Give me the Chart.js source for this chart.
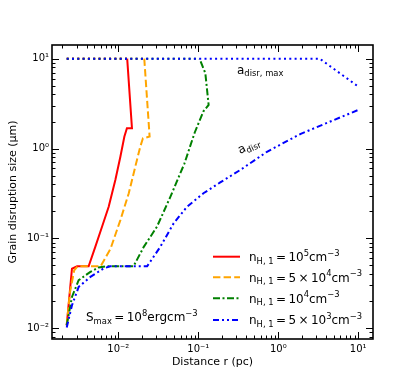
<!DOCTYPE html>
<html>
<head>
<meta charset="utf-8">
<script src="https://cdn.jsdelivr.net/npm/chart.js@4.4.0/dist/chart.umd.min.js"></script>
<style>
  html, body { margin: 0; padding: 0; background: #fff; }
  #wrap { width: 415px; height: 381px; }
</style>
</head>
<body>
<div id="wrap"><canvas id="chart" width="415" height="381"></canvas></div>
<script>
// distance r (pc) vs grain disruption size a_disr (um), one pair per density
const rA = [0.00226, 0.00263, 0.00305, 0.00425, 0.00516, 0.00625, 0.00757, 0.00917, 0.0106, 0.0119, 0.0128, 0.0148, 0.0129];
const aA = [0.0108, 0.046, 0.049, 0.049, 0.081, 0.135, 0.225, 0.447, 0.81, 1.36, 1.68, 1.68, 10];

const rB = [0.00226, 0.00248, 0.0028, 0.0031, 0.006, 0.008, 0.0106, 0.0135, 0.0163, 0.0188, 0.0203, 0.0246, 0.0211];
const aB = [0.0108, 0.025, 0.044, 0.049, 0.049, 0.077, 0.16, 0.318, 0.63, 1.05, 1.30, 1.36, 10];

const rC = [0.00226, 0.00263, 0.00319, 0.00447, 0.00568, 0.0072, 0.0155, 0.0207, 0.0304, 0.0447, 0.067, 0.09, 0.116, 0.1346, 0.1224, 0.1037];
const aC = [0.0108, 0.0223, 0.0343, 0.0425, 0.0475, 0.049, 0.049, 0.08, 0.135, 0.29, 0.68, 1.5, 2.6, 3.06, 6.9, 10];

const rD = [0.00226, 0.00263, 0.00319, 0.00447, 0.00655, 0.00794, 0.0229, 0.0335, 0.0491, 0.0722, 0.116, 0.188, 0.335, 0.722, 1.88, 4.92, 10];
const aD = [0.0102, 0.018, 0.0289, 0.0373, 0.0464, 0.049, 0.049, 0.0807, 0.147, 0.225, 0.318, 0.42, 0.578, 0.92, 1.45, 2.07, 2.69];

// a_disr,max curves
const rMaxA = [0.00226, 0.0129];
const rMaxB = [0.00226, 0.0211];
const rMaxC = [0.00226, 0.101];
const rMaxD = [0.00226, 3.3, 10];
const aMaxA = [10, 10];
const aMaxB = [10, 10];
const aMaxC = [10, 10];
const aMaxD = [10, 10, 4.9];

const xTicks = [0.01, 0.1, 1, 10];
const yTicks = [0.01, 0.1, 1, 10];

const FONT = '"DejaVu Sans", sans-serif';
Chart.defaults.font.family = FONT;
Chart.defaults.color = '#000';

const pts = (xs, ys) => xs.map((x, i) => ({x: x, y: ys[i]}));

const series = [
    {r: rA, a: aA, rm: rMaxA, am: aMaxA, color: '#ff0000', dash: [], order: 4,
     label: [['n', 0], ['H, 1', -1], ['\u2009=\u200910', 0], ['5', 1], ['cm', 0], ['\u22123', 1]]},
    {r: rB, a: aB, rm: rMaxB, am: aMaxB, color: '#ffa500', dash: [7.4, 3.2], order: 3,
     label: [['n', 0], ['H, 1', -1], ['\u2009=\u20095\u2009\u00d7\u200910', 0], ['4', 1], ['cm', 0], ['\u22123', 1]]},
    {r: rC, a: aC, rm: rMaxC, am: aMaxC, color: '#008000', dash: [7, 2.5, 2, 2.5], order: 2,
     label: [['n', 0], ['H, 1', -1], ['\u2009=\u200910', 0], ['4', 1], ['cm', 0], ['\u22123', 1]]},
    {r: rD, a: aD, rm: rMaxD, am: aMaxD, color: '#0000ff', dash: [6, 3, 2, 3, 2, 3], order: 1,
     label: [['n', 0], ['H, 1', -1], ['\u2009=\u20095\u2009\u00d7\u200910', 0], ['3', 1], ['cm', 0], ['\u22123', 1]]}
];

const datasets = [];
series.forEach(s => {
    datasets.push({data: pts(s.r, s.a), borderColor: s.color, borderWidth: 2,
        borderDash: s.dash, pointRadius: 0, tension: 0, order: s.order});
    datasets.push({data: pts(s.rm, s.am), borderColor: s.color, borderWidth: 2,
        borderDash: [2, 3.3], pointRadius: 0, tension: 0, order: s.order});
});

// text with sub/superscripts: k = 0 normal, 1 superscript, -1 subscript
function drawRich(ctx, parts, x, y, size) {
    let cx = x;
    parts.forEach(([t, k]) => {
        const s = k === 0 ? size : size * 0.7;
        ctx.font = s + 'px ' + FONT;
        const dy = k === 1 ? -size * 0.45 : (k === -1 ? size * 0.22 : 0);
        ctx.fillText(t, cx, y + dy);
        cx += ctx.measureText(t).width;
    });
}

const supMap = {'-': '\u207b', '0': '\u2070', '1': '\u00b9', '2': '\u00b2', '3': '\u00b3'};
function powLabel(v) {
    const e = Math.round(Math.log10(v));
    return '10' + String(e).split('').map(c => supMap[c]).join('');
}

const decorations = {
    id: 'decorations',
    afterDraw(chart) {
        const {ctx, chartArea: a, scales: {x, y}} = chart;
        ctx.save();
        ctx.strokeStyle = '#000';
        ctx.lineWidth = 1;
        const seg = (x1, y1, x2, y2) => {
            ctx.beginPath(); ctx.moveTo(x1, y1); ctx.lineTo(x2, y2); ctx.stroke();
        };
        // inward ticks on all four sides
        for (let e = -3; e <= 1; e++) {
            for (let k = 1; k <= 9; k++) {
                const v = k * Math.pow(10, e);
                const len = k === 1 ? 7 : 3.5;
                if (v >= x.min && v <= x.max) {
                    const px = Math.round(x.getPixelForValue(v)) + 0.5;
                    seg(px, a.bottom, px, a.bottom - len);
                    seg(px, a.top, px, a.top + len);
                }
                if (v >= y.min && v <= y.max) {
                    const py = Math.round(y.getPixelForValue(v)) + 0.5;
                    seg(a.left, py, a.left + len, py);
                    seg(a.right, py, a.right - len, py);
                }
            }
        }
        ctx.lineWidth = 1.6;
        ctx.strokeRect(a.left, a.top, a.right - a.left, a.bottom - a.top);

        // legend
        ctx.fillStyle = '#000';
        ctx.textBaseline = 'alphabetic';
        const rows = [256.7, 277.3, 298.3, 320];
        series.forEach((s, i) => {
            ctx.strokeStyle = s.color;
            ctx.lineWidth = 2;
            ctx.setLineDash(s.dash);
            seg(213, rows[i], 240, rows[i]);
            ctx.setLineDash([]);
            drawRich(ctx, s.label, 249, rows[i] + 4.3, 12);
        });

        // annotations
        drawRich(ctx, [['a', 0], ['disr, max', -1]], 237, 73.5, 12);
        drawRich(ctx, [['S', 0], ['max', -1], ['\u2009=\u200910', 0], ['8', 1], ['ergcm', 0], ['\u22123', 1]], 86, 321, 12);
        ctx.save();
        ctx.translate(240, 154);
        ctx.rotate(-25 * Math.PI / 180);
        drawRich(ctx, [['a', 0], ['disr', -1]], 0, 0, 12);
        ctx.restore();
        ctx.restore();
    }
};

new Chart(document.getElementById('chart'), {
    type: 'line',
    data: {datasets: datasets},
    options: {
        responsive: false,
        animation: false,
        layout: {padding: {top: 45, right: 42, left: 0, bottom: 0}},
        plugins: {legend: {display: false}, tooltip: {enabled: false}},
        scales: {
            x: {
                type: 'logarithmic',
                position: 'bottom',
                min: 0.00148,
                max: 15.3,
                grid: {display: false, drawTicks: false},
                border: {display: false},
                afterBuildTicks: s => { s.ticks = xTicks.map(v => ({value: v})); },
                afterFit: s => { s.height = 42; },
                ticks: {autoSkip: false, maxRotation: 0, padding: 4, font: {size: 10},
                    callback: v => powLabel(v)},
                title: {display: true, text: 'Distance r (pc)', font: {size: 11},
                    padding: {top: 0, bottom: 12}}
            },
            y: {
                type: 'logarithmic',
                min: 0.0076,
                max: 14.2,
                grid: {display: false, drawTicks: false},
                border: {display: false},
                afterBuildTicks: s => { s.ticks = yTicks.map(v => ({value: v})); },
                afterFit: s => { s.width = 52; },
                ticks: {autoSkip: false, padding: 3, font: {size: 10},
                    callback: v => powLabel(v)},
                title: {display: true, text: 'Grain disruption size (\u03bcm)', font: {size: 11},
                    padding: {top: 7, bottom: 0}}
            }
        }
    },
    plugins: [decorations]
});
</script>
</body>
</html>
